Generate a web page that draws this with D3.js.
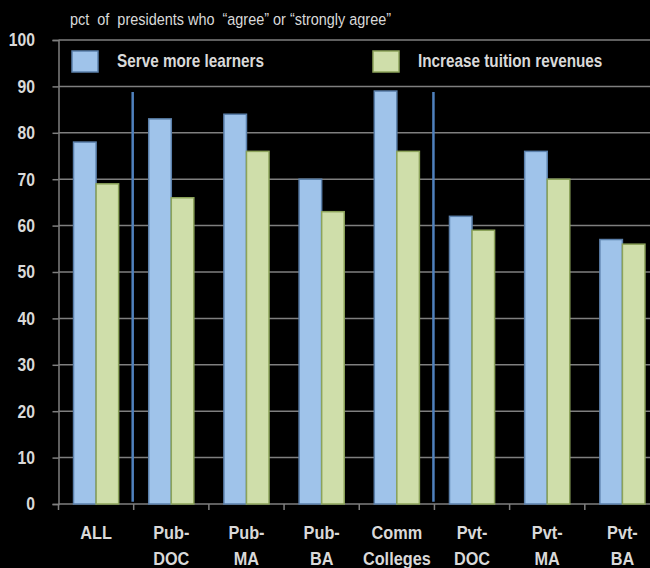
<!DOCTYPE html>
<html lang="en">
<head>
    <meta charset="UTF-8">
    <title>Presidents survey</title>
    <script src="https://d3js.org/d3.v7.min.js"></script>
    <style>
        body { margin: 0; background: #000; }
        svg { display: block; }
        text {
            font-family: "Liberation Sans", Arial, sans-serif;
            fill: #d9d9d9;
            white-space: pre;
        }
        .tick-label { font-size: 18.5px; font-weight: bold; }
        .legend-label { font-size: 18px; font-weight: bold; }
        .grid { stroke: #7f7f7f; stroke-width: 1.5; }
    </style>
</head>
<body>
    <svg width="650" height="568"></svg>
    <script>
        // chart data
        const categories = ["ALL", "Pub-DOC", "Pub-MA", "Pub-BA", "Comm", "Pvt-DOC", "Pvt-MA", "Pvt-BA"];
        const categoryLabels = [["ALL"], ["Pub-", "DOC"], ["Pub-", "MA"], ["Pub-", "BA"], ["Comm", "Colleges"], ["Pvt-", "DOC"], ["Pvt-", "MA"], ["Pvt-", "BA"]];
        const serveMore = [78, 83, 84, 70, 89, 62, 76, 57];
        const tuition = [69, 66, 76, 63, 76, 59, 70, 56];
        const seriesNames = ["Serve more learners", "Increase tuition revenues"];
        const yTicks = [0, 10, 20, 30, 40, 50, 60, 70, 80, 90, 100];
        const groupBreaks = ["Pub-DOC", "Pvt-DOC"];

        const fills = ["#9fc3ea", "#cfdeaa"];
        const strokes = ["#5b80ab", "#8ca35a"];
        const narrow = 0.85; // squeeze text to look like a narrow face

        const svg = d3.select("svg");

        const y = d3.scaleLinear().domain([0, 100]).range([504, 40]);
        const x = d3.scaleBand().domain(categories).range([58.5, 660]);
        const xSub = d3.scaleBand().domain(seriesNames).range([0, x.bandwidth()]).paddingOuter(0.667);

        // gridlines
        svg.append("g")
            .selectAll("line")
            .data(yTicks.filter(t => t > 0))
            .join("line")
            .attr("class", "grid")
            .attr("x1", x.range()[0])
            .attr("x2", 650)
            .attr("y1", d => y(d))
            .attr("y2", d => y(d));

        // y axis
        const yAxis = svg.append("g")
            .attr("transform", `translate(${x.range()[0]},0)`)
            .call(d3.axisLeft(y).tickValues(yTicks).tickSize(6).tickFormat(""));
        yAxis.select(".domain").attr("stroke", "#7f7f7f").attr("stroke-width", 1.5);
        yAxis.selectAll(".tick line").attr("stroke", "#7f7f7f").attr("stroke-width", 1.5);

        svg.append("g")
            .selectAll("text")
            .data(yTicks)
            .join("text")
            .attr("class", "tick-label")
            .attr("text-anchor", "end")
            .attr("dy", "0.35em")
            .attr("transform", d => `translate(35,${y(d)}) scale(${narrow},1)`)
            .text(d => d);

        // x axis baseline with ticks at band edges
        svg.append("line")
            .attr("x1", x.range()[0]).attr("x2", 650)
            .attr("y1", y(0)).attr("y2", y(0))
            .attr("stroke", "#7f7f7f").attr("stroke-width", 1.5);
        svg.append("g")
            .selectAll("line")
            .data(categories)
            .join("line")
            .attr("x1", d => x(d)).attr("x2", d => x(d))
            .attr("y1", y(0)).attr("y2", y(0) + 6)
            .attr("stroke", "#7f7f7f").attr("stroke-width", 1.5);

        // bars
        const rows = categories.map((c, i) => ({ cat: c, values: [serveMore[i], tuition[i]] }));
        const groups = svg.append("g")
            .selectAll("g")
            .data(rows)
            .join("g")
            .attr("transform", d => `translate(${x(d.cat)},0)`);
        groups.selectAll("rect")
            .data(d => d.values.map((v, k) => ({ series: seriesNames[k], k: k, v: v })))
            .join("rect")
            .attr("x", d => xSub(d.series))
            .attr("width", xSub.bandwidth())
            .attr("y", d => y(d.v))
            .attr("height", d => y(0) - y(d.v))
            .attr("fill", d => fills[d.k])
            .attr("stroke", d => strokes[d.k])
            .attr("stroke-width", 1.5);

        // group separators
        svg.append("g")
            .selectAll("line")
            .data(groupBreaks)
            .join("line")
            .attr("x1", d => x(d) - 1).attr("x2", d => x(d) - 1)
            .attr("y1", y(88.8)).attr("y2", y(0.5))
            .attr("stroke", "#4f81bd").attr("stroke-width", 2.5);

        // category labels
        const labels = svg.append("g")
            .selectAll("text")
            .data(categories.map((c, i) => ({ cat: c, lines: categoryLabels[i] })))
            .join("text")
            .attr("class", "tick-label")
            .attr("text-anchor", "middle")
            .attr("transform", d => `translate(${x(d.cat) + x.bandwidth() / 2},539) scale(${narrow + 0.03},1)`);
        labels.selectAll("tspan")
            .data(d => d.lines)
            .join("tspan")
            .attr("x", 0)
            .attr("dy", (d, i) => i === 0 ? 0 : 26)
            .text(d => d);

        // title
        svg.append("text")
            .attr("transform", `translate(70,25) scale(${narrow},1)`)
            .attr("font-size", 17)
            .attr("fill", "#ececec")
            .text("pct  of  presidents who  \u201Cagree\u201D or \u201Cstrongly agree\u201D");

        // legend
        const legendX = [72, 373];
        const legend = svg.append("g")
            .selectAll("g")
            .data(seriesNames)
            .join("g")
            .attr("transform", (d, i) => `translate(${legendX[i]},51)`);
        legend.append("rect")
            .attr("width", 26).attr("height", 21)
            .attr("fill", (d, i) => fills[i])
            .attr("stroke", (d, i) => strokes[i])
            .attr("stroke-width", 1.5);
        legend.append("text")
            .attr("class", "legend-label")
            .attr("transform", `translate(45,16) scale(${narrow},1)`)
            .text(d => d);
    </script>
</body>
</html>
